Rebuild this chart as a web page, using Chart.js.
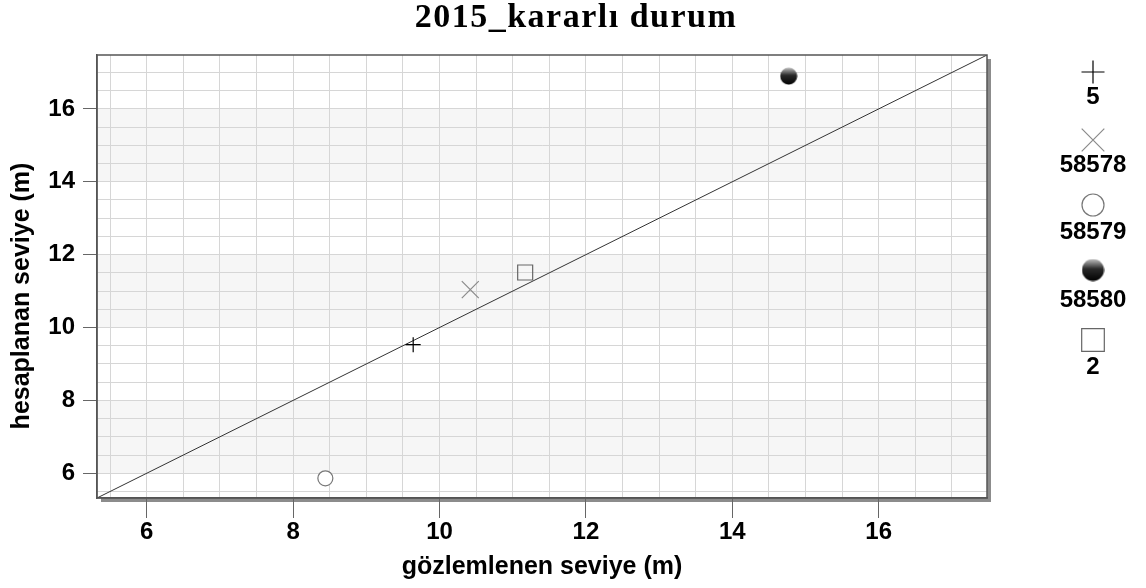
<!DOCTYPE html>
<html>
<head>
<meta charset="utf-8">
<script src="https://cdn.jsdelivr.net/npm/chart.js@4/dist/chart.umd.min.js"></script>
<style>
    html, body { margin: 0; padding: 0; background: #fff; }
    #wrap { width: 1146px; height: 588px; }
</style>
</head>
<body>
<div id="wrap"><canvas id="chart"></canvas></div>
<script>
(function() {
    'use strict';

    // ============================================================================
    // DATA
    // ============================================================================

    var chartTitle = '2015_kararlı durum';
    var xTitle = 'gözlemlenen seviye (m)';
    var yTitle = 'hesaplanan seviye (m)';

    var wellNames = ['5', '58578', '58579', '58580', '2'];
    var observedLevel = [9.64, 10.42, 8.44, 14.77, 11.17];
    var computedLevel = [9.53, 11.04, 5.86, 16.90, 11.51];

    var axisMin = 5.32;
    var axisMax = 17.48;
    var majorStep = 2;
    var minorStep = 0.5;
    var bandRanges = [[6, 8], [10, 12], [14, 16]];

    // ============================================================================
    // STYLE
    // ============================================================================

    var sansFamily = '"Liberation Sans", Arial, sans-serif';
    var tickFont = { family: sansFamily, size: 24, weight: 'bold' };
    var titleFont = { family: sansFamily, size: 25, weight: 'bold' };
    var gridColor = '#d6d6d6';
    var frameColor = '#555555';

    function makeBall(size) {
        var c = document.createElement('canvas');
        c.width = size;
        c.height = size;
        var g = c.getContext('2d');
        var grad = g.createLinearGradient(0, 0, 0, size);
        grad.addColorStop(0, '#c8c8c8');
        grad.addColorStop(0.45, '#2a2a2a');
        grad.addColorStop(1, '#000000');
        g.fillStyle = grad;
        g.beginPath();
        g.arc(size / 2, size / 2, size / 2 - 0.5, 0, Math.PI * 2);
        g.fill();
        return c;
    }

    var markerStyles = [
        { pointStyle: 'cross', radius: 7.5, color: '#000000', fill: 'rgba(0,0,0,0)', legendRadius: 11.5 },
        { pointStyle: 'crossRot', radius: 12, color: '#8a8a8a', fill: 'rgba(0,0,0,0)', legendRadius: 16 },
        { pointStyle: 'circle', radius: 7.5, color: '#777777', fill: '#ffffff', legendRadius: 11 },
        { pointStyle: makeBall(18), radius: 9, color: '#000000', fill: '#000000', legendImage: makeBall(23) },
        { pointStyle: 'rect', radius: 10.6, color: '#666666', fill: 'rgba(0,0,0,0)', legendRadius: 16 }
    ];

    var legendX = 1093;
    var legendMarkerY = [72, 140, 205, 270, 340];
    var legendLabelY = [97, 165, 232, 300, 367];

    // ============================================================================
    // DATASETS
    // ============================================================================

    var datasets = wellNames.map(function(name, i) {
        var s = markerStyles[i];
        return {
            label: name,
            data: [{ x: observedLevel[i], y: computedLevel[i] }],
            pointStyle: s.pointStyle,
            pointRadius: s.radius,
            pointHoverRadius: s.radius,
            pointBorderColor: s.color,
            pointBackgroundColor: s.fill,
            pointBorderWidth: 1.2,
            showLine: false,
            order: 1
        };
    });

    // 1:1 reference line
    datasets.push({
        label: '1:1',
        data: [{ x: axisMin, y: axisMin }, { x: axisMax, y: axisMax }],
        showLine: true,
        borderColor: '#333333',
        borderWidth: 1,
        pointRadius: 0,
        order: 2
    });

    // ============================================================================
    // PLUGINS
    // ============================================================================

    var decorPlugin = {
        id: 'plotDecor',
        beforeDraw: function(chart) {
            var ctx = chart.ctx;
            var a = chart.chartArea;
            var y = chart.scales.y;
            ctx.save();
            // drop shadow
            ctx.fillStyle = '#8c8c8c';
            ctx.fillRect(a.left + 4, a.top + 4, a.right - a.left, a.bottom - a.top);
            ctx.fillStyle = '#ffffff';
            ctx.fillRect(a.left, a.top, a.right - a.left, a.bottom - a.top);
            ctx.fillStyle = '#f6f6f6';
            bandRanges.forEach(function(b) {
                var top = y.getPixelForValue(b[1]);
                var bottom = y.getPixelForValue(b[0]);
                ctx.fillRect(a.left, top, a.right - a.left, bottom - top);
            });
            ctx.restore();
        },
        afterDraw: function(chart) {
            var ctx = chart.ctx;
            var a = chart.chartArea;
            ctx.save();
            ctx.strokeStyle = frameColor;
            ctx.lineWidth = 1.5;
            ctx.strokeRect(a.left, a.top, a.right - a.left, a.bottom - a.top);

            // main title
            ctx.fillStyle = '#000000';
            ctx.textAlign = 'center';
            ctx.textBaseline = 'middle';
            ctx.font = 'bold 34px "Liberation Serif", "Times New Roman", serif';
            ctx.letterSpacing = '1.5px';
            ctx.fillText(chartTitle, 576, 18);
            ctx.letterSpacing = '0px';

            // y axis title
            ctx.save();
            ctx.translate(22, 296);
            ctx.rotate(-Math.PI / 2);
            ctx.font = 'bold 25px ' + sansFamily;
            ctx.fillText(yTitle, 0, 0);
            ctx.restore();

            // legend: marker above label
            var helpers = Chart.helpers;
            ctx.font = 'bold 24px ' + sansFamily;
            wellNames.forEach(function(name, i) {
                var s = markerStyles[i];
                var my = legendMarkerY[i];
                if (s.legendImage) {
                    ctx.drawImage(s.legendImage, legendX - s.legendImage.width / 2, my - s.legendImage.height / 2);
                } else {
                    ctx.strokeStyle = s.color;
                    ctx.fillStyle = s.fill;
                    ctx.lineWidth = 1.2;
                    helpers.drawPoint(ctx, {
                        pointStyle: s.pointStyle,
                        radius: s.legendRadius,
                        rotation: 0,
                        borderWidth: 1.2
                    }, legendX, my);
                }
                ctx.fillStyle = '#000000';
                ctx.fillText(name, legendX, legendLabelY[i]);
            });
            ctx.restore();
        }
    };

    function isMajor(v) {
        return Math.abs(v / majorStep - Math.round(v / majorStep)) < 1e-6;
    }

    function axisOptions(isX) {
        return {
            type: 'linear',
            min: axisMin,
            max: axisMax,
            afterFit: function(scale) {
                if (isX) {
                    scale.height = 90;
                } else {
                    scale.width = 97;
                }
            },
            title: {
                display: isX,
                text: xTitle,
                color: '#000000',
                font: titleFont,
                padding: { top: 0, bottom: 6 }
            },
            border: { display: true, color: frameColor, width: 1.5 },
            grid: {
                color: gridColor,
                lineWidth: 1,
                drawTicks: true,
                tickLength: isX ? 20 : 14,
                tickColor: function(c) {
                    return c.tick && isMajor(c.tick.value) ? '#666666' : 'rgba(0,0,0,0)';
                }
            },
            ticks: {
                stepSize: minorStep,
                includeBounds: false,
                autoSkip: false,
                maxRotation: 0,
                padding: isX ? 0 : 8,
                color: '#000000',
                font: tickFont,
                callback: function(v) {
                    return isMajor(v) ? String(Math.round(v)) : '';
                }
            }
        };
    }

    // ============================================================================
    // CHART
    // ============================================================================

    new Chart(document.getElementById('chart'), {
        type: 'scatter',
        data: { datasets: datasets },
        options: {
            responsive: true,
            maintainAspectRatio: false,
            animation: false,
            layout: { padding: { top: 55, left: 0, right: 159, bottom: 0 } },
            plugins: {
                legend: { display: false },
                tooltip: { enabled: false },
                title: { display: false }
            },
            scales: {
                x: axisOptions(true),
                y: axisOptions(false)
            }
        },
        plugins: [decorPlugin]
    });
})();
</script>
</body>
</html>
